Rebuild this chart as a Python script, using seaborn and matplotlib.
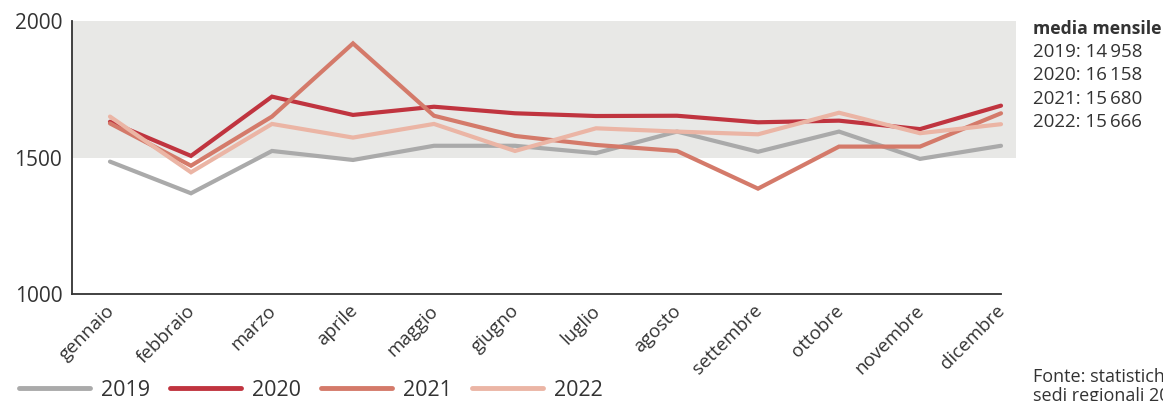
import pandas as pd
import matplotlib.pyplot as plt
import seaborn as sns

# Dati
mesi = ["gennaio", "febbraio", "marzo", "aprile", "maggio", "giugno", "luglio",
        "agosto", "settembre", "ottobre", "novembre", "dicembre"]
anni = ["2019", "2020", "2021", "2022"]
v2019 = [1485, 1369, 1524, 1491, 1543, 1543, 1516, 1595, 1521, 1595, 1495, 1543]
v2020 = [1631, 1506, 1723, 1656, 1686, 1662, 1652, 1653, 1629, 1635, 1604, 1690]
v2021 = [1625, 1470, 1650, 1918, 1653, 1579, 1546, 1524, 1386, 1540, 1540, 1662]
v2022 = [1650, 1446, 1623, 1573, 1623, 1524, 1607, 1595, 1585, 1664, 1589, 1622]
medie = ["14\u2009958", "16\u2009158", "15\u2009680", "15\u2009666"]
colori = ["#aaaaaa", "#c0343f", "#d47a6a", "#ebb5a5"]

righe = []
for anno, valori in zip(anni, [v2019, v2020, v2021, v2022]):
    for i, v in enumerate(valori):
        righe.append({"mese": i, "valore": v, "anno": anno})
df = pd.DataFrame(righe)

sns.set_style("white")
plt.rcParams['font.family'] = ['Open Sans', 'DejaVu Sans']
testo = "#333333"

fig = plt.figure(figsize=(11.63, 4.01), dpi=100)
ax = fig.add_axes([0.0619, 0.2668, 0.8117, 0.6808])

ax.axhspan(1500, 2000, color="#e8e8e6", zorder=0, lw=0)
sns.lineplot(data=df, x="mese", y="valore", hue="anno", palette=colori,
             linewidth=3, ax=ax, legend=False, sort=False)
for l in ax.lines:
    l.set_solid_joinstyle("miter")

ax.set_xlim(-0.469, 11.185)
ax.set_ylim(1000, 2000)
ax.set_yticks([1000, 1500, 2000])
ax.set_yticklabels(["1000", "1500", "2000"], fontsize=15, color=testo)
ax.set_xticks(range(12))
ax.set_xticklabels(mesi, rotation=45, ha="right", va="center_baseline",
                   rotation_mode="anchor", fontsize=13.5, color=testo)
ax.tick_params(axis="x", direction="in", length=10, width=1.2, color=testo, pad=9)
ax.tick_params(axis="y", length=0, pad=7)
ax.set_xlabel("")
ax.set_ylabel("")

for s in ["top", "right"]:
    ax.spines[s].set_visible(False)
for s in ["left", "bottom"]:
    ax.spines[s].set_color(testo)
    ax.spines[s].set_linewidth(1.3)
ax.spines["bottom"].set_bounds(-0.469, 11.0)

# legenda in basso
maniglie = [plt.Line2D([], [], color=c, lw=3.5) for c in colori]
fig.legend(maniglie, anni, loc="center left", bbox_to_anchor=(0.0, 0.027), ncol=4,
           frameon=False, handlelength=3.3, handletextpad=0.5, columnspacing=0.93,
           prop={"size": 15.5}, labelcolor=testo)

# media mensile
fig.text(0.888, 0.928, "media mensile", fontsize=12.7, fontweight="bold", color=testo, va="center")
for k, (anno, m) in enumerate(zip(anni, medie)):
    fig.text(0.888, 0.928 - (k + 1) * 0.058, f"{anno}: {m}", fontsize=13.5,
             color=testo, va="center")

fig.text(0.888, 0.037, "Fonte: statistiche delle\nsedi regionali 2019–2022",
         fontsize=13, color=testo, va="center", linespacing=1.05)

fig.savefig("out.png", dpi=100)
